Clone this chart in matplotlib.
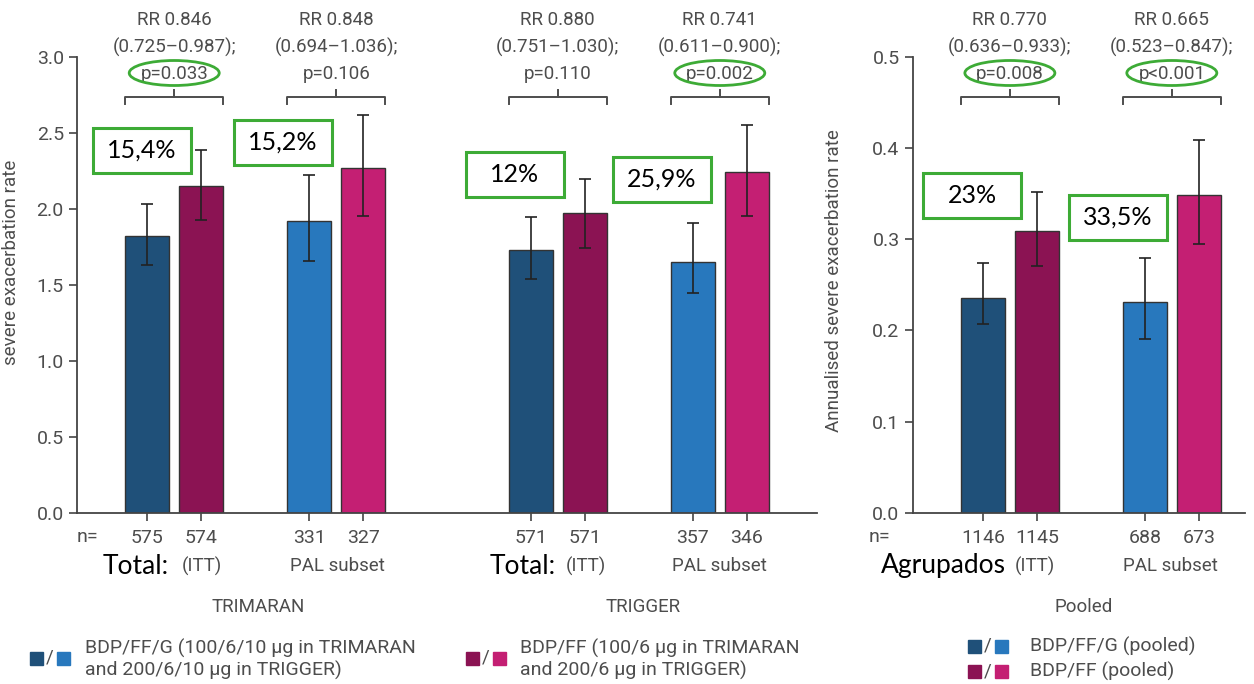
import matplotlib
matplotlib.use("Agg")
import numpy as np
from matplotlib import pyplot as plt
from matplotlib import transforms
from matplotlib.patches import Rectangle, Ellipse

# 数据
groups = ["TRIMARAN", "TRIGGER"]
trial_rate = [1.82, 2.15, 1.92, 2.27, 1.73, 1.97, 1.65, 2.24]
trial_lo = [1.63, 1.93, 1.66, 1.95, 1.54, 1.74, 1.445, 1.955]
trial_hi = [2.03, 2.39, 2.22, 2.62, 1.945, 2.20, 1.905, 2.555]
trial_n = ["575", "574", "331", "327", "571", "571", "357", "346"]

pooled_rate = [0.236, 0.309, 0.231, 0.349]
pooled_lo = [0.207, 0.271, 0.191, 0.295]
pooled_hi = [0.274, 0.352, 0.279, 0.409]
pooled_n = ["1146", "1145", "688", "673"]

trial_rr = ["RR 0.846\n(0.725\u20130.987);\np=0.033", "RR 0.848\n(0.694\u20131.036);\np=0.106",
            "RR 0.880\n(0.751\u20131.030);\np=0.110", "RR 0.741\n(0.611\u20130.900);\np=0.002"]
pooled_rr = ["RR 0.770\n(0.636\u20130.933);\np=0.008", "RR 0.665\n(0.523\u20130.847);\np<0.001"]
trial_sig = [True, False, False, True]
pooled_sig = [True, True]
trial_pct = ["15,4%", "15,2%", "12%", "25,9%"]
pooled_pct = ["23%", "33,5%"]

# 颜色
c_dark_blue = "#1f5079"
c_dark_mag = "#8b1353"
c_light_blue = "#2878bd"
c_pink = "#c41f73"
bar_colors = [c_dark_blue, c_dark_mag, c_light_blue, c_pink]
gray = "#4d4d4d"
green = "#3dab36"
W, H = 1254, 684
fs = 13.5
fs_big = 19


def fx(x):
    return x / W


def fy(y):
    return 1 - y / H


plt.rcParams['font.family'] = ['Roboto', 'DejaVu Sans']
fig = plt.figure(figsize=(12.54, 6.84), dpi=100)
ax1 = fig.add_axes([fx(77), fy(512.7), fx(740), (512.7 - 57) / H])
ax2 = fig.add_axes([fx(912.7), fy(512.7), fx(332), (512.7 - 57) / H])

pos1 = np.array([1.3, 2.3, 4.3, 5.3, 8.4, 9.4, 11.4, 12.4])
pos2 = np.array([1.3, 2.3, 4.3, 5.3])
bw = 0.81


def draw(ax, pos, rate, lo, hi, n, ylim, yticks, xmax):
    rate = np.array(rate)
    err = [rate - np.array(lo), np.array(hi) - rate]
    cols = [bar_colors[i % 4] for i in range(len(rate))]
    ax.bar(pos, rate, width=bw, color=cols, edgecolor="#333333", linewidth=1, zorder=2)
    ax.errorbar(pos, rate, yerr=err, fmt="none", ecolor="#222222", elinewidth=1.2,
                capsize=4, capthick=1.2, zorder=3)
    ax.set_xlim(0, xmax)
    ax.set_ylim(*ylim)
    ax.set_yticks(yticks)
    ax.set_yticklabels([f"{t:.1f}" for t in yticks])
    ax.set_xticks(pos)
    ax.set_xticklabels(n)
    for s in ["top", "right"]:
        ax.spines[s].set_visible(False)
    for s in ["left", "bottom"]:
        ax.spines[s].set_color("#444444")
        ax.spines[s].set_linewidth(1.3)
    ax.tick_params(axis="y", colors="#444444", labelcolor=gray, labelsize=14, length=6, width=1.2)
    ax.tick_params(axis="x", colors="#444444", labelcolor=gray, labelsize=14, length=6, width=1.2, pad=6)


draw(ax1, pos1, trial_rate, trial_lo, trial_hi, trial_n, (0, 3.0), np.arange(0, 3.01, 0.5), 13.7)
draw(ax2, pos2, pooled_rate, pooled_lo, pooled_hi, pooled_n, (0, 0.5), np.arange(0, 0.51, 0.1), 6.15)
ax1.set_ylabel("severe exacerbation rate", fontsize=fs, color=gray)
ax1.yaxis.set_label_coords(fx(20 - 77) / fx(740), 0.55)
ax2.set_ylabel("Annualised severe exacerbation rate", fontsize=fs, color=gray)
ax2.yaxis.set_label_coords(fx(843 - 912.7) / fx(332), 0.51)


def annotate(ax, pos, rr, sig, pct, boxes):
    tr = transforms.blended_transform_factory(ax.transData, fig.transFigure)
    for k in range(len(rr)):
        a, b = pos[2 * k], pos[2 * k + 1]
        mid = (a + b) / 2
        ax.text(mid, fy(47), rr[k], transform=tr, ha="center", va="center", fontsize=fs,
                color=gray, linespacing=1.58)
        xl, xr = a - bw / 2, b + bw / 2
        ax.plot([xl, xl, xr, xr], [fy(104), fy(97), fy(97), fy(104)], transform=tr,
                color=gray, lw=1.4, clip_on=False)
        ax.plot([mid, mid], [fy(97), fy(90)], transform=tr, color=gray, lw=1.4, clip_on=False)
        if sig[k]:
            disp = ax.transData.transform((mid, 0))[0]
            fig.add_artist(Ellipse((fx(disp), fy(73)), fx(90), 25 / H, fill=False,
                                   edgecolor=green, lw=2))
        x0, y0 = boxes[k]
        fig.add_artist(Rectangle((fx(x0), fy(y0 + 45)), fx(98), 45 / H, fill=False,
                                 edgecolor=green, lw=2.2))
        fig.text(fx(x0 + 49), fy(y0 + 22.5), pct[k], ha="center", va="center", fontsize=18,
                 color="black", family=["Lato", "DejaVu Sans"])


annotate(ax1, pos1, trial_rr, trial_sig, trial_pct, [(93, 128), (234, 120), (466, 152), (613, 157)])
annotate(ax2, pos2, pooled_rr, pooled_sig, pooled_pct, [(923, 173), (1069, 195)])

# 底部文字
fig.text(fx(87), fy(537), "n=", ha="center", va="center", fontsize=14, color=gray)
fig.text(fx(880), fy(537), "n=", ha="center", va="center", fontsize=14, color=gray)
for x, t in [(136, "Total:"), (523, "Total:"), (943, "Agrupados")]:
    fig.text(fx(x), fy(566), t, ha="center", va="center", fontsize=fs_big, color="black",
             family=["Lato", "DejaVu Sans"])
for x, t in [(202, "(ITT)"), (337, "PAL subset"), (586, "(ITT)"), (719, "PAL subset"),
             (1035, "(ITT)"), (1170, "PAL subset")]:
    fig.text(fx(x), fy(566), t, ha="center", va="center", fontsize=fs, color=gray)
for x, t in [(258, groups[0]), (643, groups[1]), (1084, "Pooled")]:
    fig.text(fx(x), fy(607), t, ha="center", va="center", fontsize=fs, color=gray)

# 图例
def legend_item(x, y, c1, c2):
    fig.add_artist(Rectangle((fx(x), fy(y + 7)), fx(13), 13 / H, color=c1))
    fig.text(fx(x + 20), fy(y), "/", ha="center", va="center", fontsize=fs, color=gray)
    fig.add_artist(Rectangle((fx(x + 27), fy(y + 7)), fx(13), 13 / H, color=c2))


legend_item(30, 658, c_dark_blue, c_light_blue)
fig.text(fx(85), fy(659), "BDP/FF/G (100/6/10 \u00b5g in TRIMARAN\nand 200/6/10 \u00b5g in TRIGGER)",
         ha="left", va="center", fontsize=14, color=gray, linespacing=1.2)
legend_item(466, 658, c_dark_mag, c_pink)
fig.text(fx(520), fy(659), "BDP/FF (100/6 \u00b5g in TRIMARAN\nand 200/6 \u00b5g in TRIGGER)",
         ha="left", va="center", fontsize=14, color=gray, linespacing=1.2)
legend_item(968, 646, c_dark_blue, c_light_blue)
legend_item(968, 671, c_dark_mag, c_pink)
fig.text(fx(1030), fy(646), "BDP/FF/G (pooled)", ha="left", va="center", fontsize=14, color=gray)
fig.text(fx(1030), fy(671), "BDP/FF (pooled)", ha="left", va="center", fontsize=14, color=gray)

plt.savefig("out.png", dpi=100)
